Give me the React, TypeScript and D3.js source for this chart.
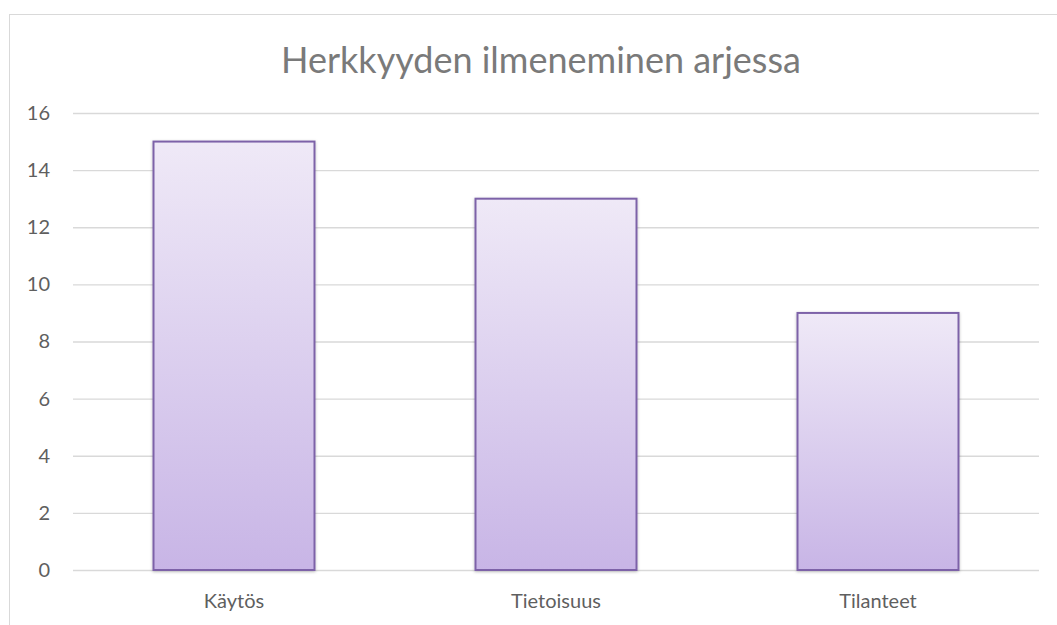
import React, { useEffect, useRef } from "react";
import { select, scaleBand, scaleLinear, axisLeft, axisBottom } from "d3";

// chart data
const categories = ["Käytös", "Tietoisuus", "Tilanteet"];
const values = [15, 13, 9];
const yTicks = [0, 2, 4, 6, 8, 10, 12, 14, 16];
const title = "Herkkyyden ilmeneminen arjessa";

const W = 1057;
const H = 625;
const FONT = "Lato, 'Open Sans', sans-serif";

function BarChart() {
  const svgRef = useRef<SVGSVGElement>(null);

  useEffect(() => {
    const svg = select(svgRef.current);
    svg.selectAll("*").remove();

    const plot = { left: 73, right: 1039, top: 113, bottom: 570 };

    const x = scaleBand()
      .domain(categories)
      .range([plot.left, plot.right])
      .paddingInner(0.5)
      .paddingOuter(0.25);

    const y = scaleLinear().domain([0, 16]).range([plot.bottom, plot.top]);

    // gradient + shadow
    const defs = svg.append("defs");
    const grad = defs
      .append("linearGradient")
      .attr("id", "barGrad")
      .attr("x1", 0)
      .attr("y1", 0)
      .attr("x2", 0)
      .attr("y2", 1);
    grad.append("stop").attr("offset", "0%").attr("stop-color", "#efe9f7");
    grad.append("stop").attr("offset", "100%").attr("stop-color", "#c8b5e6");

    const shadow = defs.append("filter").attr("id", "shadow")
      .attr("x", "-10%").attr("y", "-10%").attr("width", "120%").attr("height", "120%");
    shadow.append("feDropShadow")
      .attr("dx", 0).attr("dy", 1).attr("stdDeviation", 1.5)
      .attr("flood-color", "#000").attr("flood-opacity", 0.25);

    // chart frame
    svg.append("rect")
      .attr("x", 9.5).attr("y", 14.5)
      .attr("width", W + 20).attr("height", H + 20)
      .attr("fill", "#fff").attr("stroke", "#d9d9d9");

    // title
    svg.append("text")
      .attr("x", 541)
      .attr("y", 73)
      .attr("text-anchor", "middle")
      .attr("font-family", FONT)
      .attr("font-size", 36)
      .attr("fill", "#7a7a7a")
      .text(title);

    // y axis with gridlines
    const yAxis = axisLeft(y)
      .tickValues(yTicks)
      .tickSize(-(plot.right - plot.left))
      .tickPadding(23);
    const gy = svg.append("g")
      .attr("transform", `translate(${plot.left},0)`)
      .call(yAxis);
    gy.select(".domain").remove();
    gy.selectAll(".tick line").attr("stroke", "#d9d9d9").attr("stroke-width", 1.3);
    gy.selectAll(".tick text")
      .attr("font-family", FONT)
      .attr("font-size", 20)
      .attr("fill", "#5f5f5f");

    // bars
    svg.append("g")
      .selectAll("rect")
      .data(values)
      .join("rect")
      .attr("x", (d, i) => x(categories[i]) as number)
      .attr("y", (d) => y(d))
      .attr("width", x.bandwidth())
      .attr("height", (d) => y(0) - y(d))
      .attr("fill", "url(#barGrad)")
      .attr("stroke", "#7d62a8")
      .attr("stroke-width", 2)
      .attr("filter", "url(#shadow)");

    // x axis labels
    const gx = svg.append("g")
      .attr("transform", `translate(0,${plot.bottom})`)
      .call(axisBottom(x).tickSize(0).tickPadding(24));
    gx.select(".domain").remove();
    gx.selectAll(".tick text")
      .attr("font-family", FONT)
      .attr("font-size", 20)
      .attr("fill", "#5f5f5f");
  }, []);

  return (
    <svg
      ref={svgRef}
      width={W}
      height={H}
      style={{ position: "absolute", left: 0, top: 0, background: "#fff" }}
    />
  );
}

export default function App() {
  return <BarChart />;
}
